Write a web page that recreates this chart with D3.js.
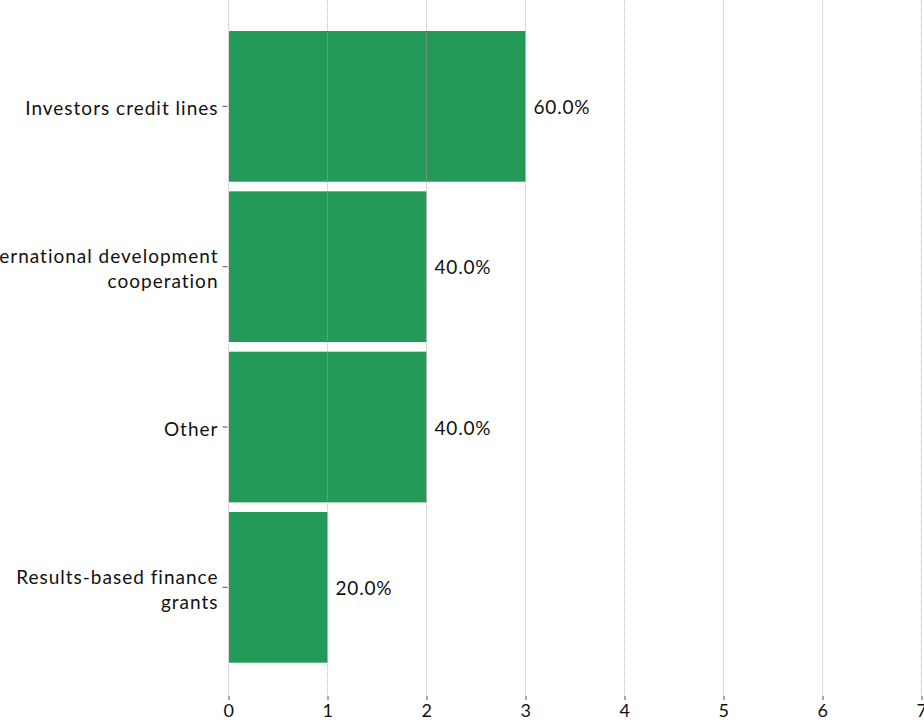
<!DOCTYPE html>
<html>
<head>
<meta charset="utf-8">
<script src="https://cdn.jsdelivr.net/npm/d3@7"></script>
<style>
  html, body { margin: 0; padding: 0; background: #fff; }
  svg { display: block; font-family: "Lato", "Open Sans", sans-serif; }
</style>
</head>
<body>
<svg id="chart" width="924" height="722"></svg>
<script>
// Funding sources and counts of respondents
const categories = [
  "Investors credit lines",
  "International development cooperation",
  "Other",
  "Results-based finance grants"
];
const counts = [3, 2, 2, 1];
const shares = ["60.0%", "40.0%", "40.0%", "20.0%"];
const xTicks = [0, 1, 2, 3, 4, 5, 6, 7];

const svg = d3.select("#chart");
const barColor = "#239a57";

const x = d3.scaleLinear().domain([0, 7]).range([228.5, 921.5]);
const y = d3.scaleBand()
  .domain(categories)
  .range([26.2, 667.5])
  .paddingInner(0.06)
  .paddingOuter(0.03);

const axisY = 696;

// bars
svg.append("g").selectAll("rect")
  .data(categories)
  .join("rect")
  .attr("x", x(0) + 0.5)
  .attr("y", d => y(d))
  .attr("width", (d, i) => x(counts[i]) - x(0) - 0.5)
  .attr("height", y.bandwidth())
  .attr("fill", barColor);

// vertical dotted gridlines over the bars
svg.append("g").selectAll("line")
  .data(xTicks)
  .join("line")
  .attr("x1", d => x(d)).attr("x2", d => x(d))
  .attr("y1", 0).attr("y2", axisY)
  .attr("stroke", "#aaaaaa")
  .attr("stroke-opacity", 0.8)
  .attr("stroke-width", 1)
  .attr("stroke-dasharray", "1,1");

// x axis
const xAxis = svg.append("g")
  .attr("transform", `translate(0,${axisY})`)
  .call(d3.axisBottom(x).tickValues(xTicks).tickSize(4).tickPadding(4).tickFormat(d3.format("d")));
xAxis.select(".domain").remove();
xAxis.selectAll(".tick line").attr("stroke", "#555");
xAxis.selectAll(".tick text")
  .attr("fill", "#111")
  .style("font-size", "18px")
  .style("letter-spacing", "0.5px")
  .style("font-family", "Lato, sans-serif");

// y axis with wrapped category labels
const yAxis = svg.append("g")
  .attr("transform", `translate(${x(0) - 1},0)`)
  .call(d3.axisLeft(y).tickSize(5).tickPadding(4));
yAxis.select(".domain").remove();
yAxis.selectAll(".tick line").attr("stroke", "#555");
yAxis.selectAll(".tick text")
  .attr("fill", "#111")
  .style("font-size", "19px")
  .style("letter-spacing", "1px")
  .style("font-family", "Lato, sans-serif")
  .each(function(d) {
    const t = d3.select(this);
    const maxW = 250;
    const words = d.split(" ");
    const lines = [];
    let line = [];
    words.forEach(w => {
      line.push(w);
      t.text(line.join(" "));
      if (this.getComputedTextLength() > maxW && line.length > 1) {
        line.pop();
        lines.push(line.join(" "));
        line = [w];
      }
    });
    lines.push(line.join(" "));
    t.text(null);
    const lh = 25;
    const offset = -(lines.length - 1) * lh / 2;
    lines.forEach((l, i) => {
      t.append("tspan")
        .attr("x", -9)
        .attr("dy", i === 0 ? 0 : lh)
        .text(l);
    });
    t.attr("dy", null).attr("y", offset + 1).attr("dominant-baseline", "central");
  });

// value labels
svg.append("g").selectAll("text")
  .data(categories)
  .join("text")
  .attr("x", (d, i) => x(counts[i]) + 8)
  .attr("y", d => y(d) + y.bandwidth() / 2)
  .attr("dominant-baseline", "central")
  .attr("fill", "#111")
  .style("font-size", "19px")
  .style("letter-spacing", "0.8px")
  .text((d, i) => shares[i]);
</script>
</body>
</html>
